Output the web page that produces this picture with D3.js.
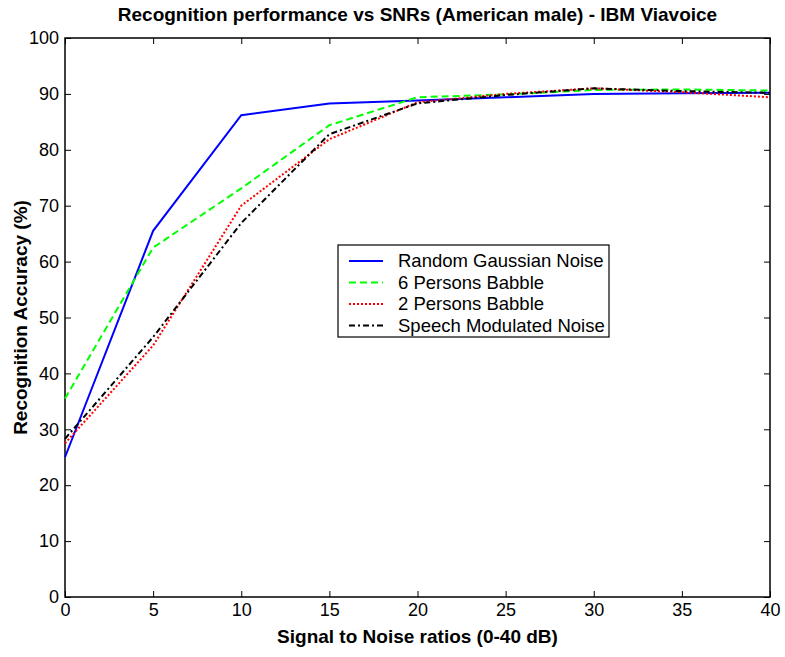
<!DOCTYPE html>
<html>
<head>
<meta charset="utf-8">
<script src="https://cdn.jsdelivr.net/npm/d3@7"></script>
<style>
  body { margin: 0; background: #fff; }
  text { font-family: "Liberation Sans", Arial, sans-serif; }
</style>
</head>
<body>
<div id="chart"></div>
<script>
const snr = [0, 5, 10, 15, 20, 25, 30, 35, 40];
const gaussian = [25, 65.5, 86.2, 88.3, 88.8, 89.4, 90.0, 90.1, 90.2];
const babble6 = [35.5, 62.5, 73.1, 84.4, 89.4, 89.9, 90.7, 90.8, 90.6];
const babble2 = [27.5, 45, 70, 81.9, 88.5, 90.0, 91.0, 90.3, 89.4];
const speechMod = [28.3, 46.5, 66.9, 82.8, 88.3, 89.8, 91.0, 90.5, 90.2];
const seriesNames = ["Random Gaussian Noise", "6 Persons Babble", "2 Persons Babble", "Speech Modulated Noise"];
const xTicks = [0, 5, 10, 15, 20, 25, 30, 35, 40];
const yTicks = [0, 10, 20, 30, 40, 50, 60, 70, 80, 90, 100];

const W = 785, H = 657;
const margin = { top: 38, right: 15, bottom: 60, left: 65 };
const width = W - margin.left - margin.right;
const height = H - margin.top - margin.bottom;

const svg = d3.select("#chart").append("svg")
  .attr("width", W).attr("height", H);

const g = svg.append("g")
  .attr("transform", `translate(${margin.left}, ${margin.top})`);

const x = d3.scaleLinear().domain([0, 40]).range([0, width]);
const y = d3.scaleLinear().domain([0, 100]).range([height, 0]);

// axes with inward ticks on all four sides
function styleAxis(sel) {
  sel.select(".domain").remove();
  sel.selectAll("line").attr("stroke", "#000").attr("stroke-width", 1);
  sel.selectAll("text").attr("font-size", 18).attr("fill", "#000");
}
g.append("g").attr("transform", `translate(0, ${height})`)
  .call(d3.axisBottom(x).tickValues(xTicks).tickSizeInner(-6).tickSizeOuter(0).tickPadding(6))
  .call(styleAxis);
g.append("g")
  .call(d3.axisLeft(y).tickValues(yTicks).tickSizeInner(-6).tickSizeOuter(0).tickPadding(6))
  .call(styleAxis);
g.append("g")
  .call(d3.axisTop(x).tickValues(xTicks).tickSizeInner(-6).tickSizeOuter(0).tickFormat(""))
  .call(styleAxis);
g.append("g").attr("transform", `translate(${width}, 0)`)
  .call(d3.axisRight(y).tickValues(yTicks).tickSizeInner(-6).tickSizeOuter(0).tickFormat(""))
  .call(styleAxis);

g.append("rect")
  .attr("width", width).attr("height", height)
  .attr("fill", "none").attr("stroke", "#000").attr("stroke-width", 1.5);

// lines
const series = [
  { name: seriesNames[0], values: gaussian, color: "#0000ff", dash: null },
  { name: seriesNames[1], values: babble6, color: "#00ff00", dash: "7,4" },
  { name: seriesNames[2], values: babble2, color: "#ff0000", dash: "2,2" },
  { name: seriesNames[3], values: speechMod, color: "#000000", dash: "6,3,2,3" }
];

const line = d3.line().x((d) => x(d[0])).y((d) => y(d[1]));

g.selectAll(".series")
  .data(series)
  .join("path")
  .attr("class", "series")
  .attr("d", (s) => line(snr.map((v, i) => [v, s.values[i]])))
  .attr("fill", "none")
  .attr("stroke", (s) => s.color)
  .attr("stroke-width", 2)
  .attr("stroke-dasharray", (s) => s.dash);

// legend
const lg = svg.append("g").attr("transform", "translate(338, 245)");
lg.append("rect")
  .attr("width", 271).attr("height", 92)
  .attr("fill", "#fff").attr("stroke", "#000").attr("stroke-width", 1.2);
series.forEach((s, i) => {
  const yy = 16 + i * 21.5;
  lg.append("line")
    .attr("x1", 11).attr("x2", 45).attr("y1", yy).attr("y2", yy)
    .attr("stroke", s.color).attr("stroke-width", 2)
    .attr("stroke-dasharray", s.dash);
  lg.append("text")
    .attr("x", 60).attr("y", yy).attr("dy", "0.35em")
    .attr("font-size", 18.5).text(s.name);
});

// titles
svg.append("text")
  .attr("x", margin.left + width / 2).attr("y", 21)
  .attr("text-anchor", "middle").attr("font-size", 19).attr("font-weight", "bold")
  .text("Recognition performance vs SNRs (American male) - IBM Viavoice");

svg.append("text")
  .attr("x", margin.left + width / 2).attr("y", 643)
  .attr("text-anchor", "middle").attr("font-size", 19).attr("font-weight", "bold")
  .text("Signal to Noise ratios (0-40 dB)");

svg.append("text")
  .attr("transform", `translate(27, ${margin.top + height / 2}) rotate(-90)`)
  .attr("text-anchor", "middle").attr("font-size", 19).attr("font-weight", "bold")
  .text("Recognition Accuracy (%)");
</script>
</body>
</html>
